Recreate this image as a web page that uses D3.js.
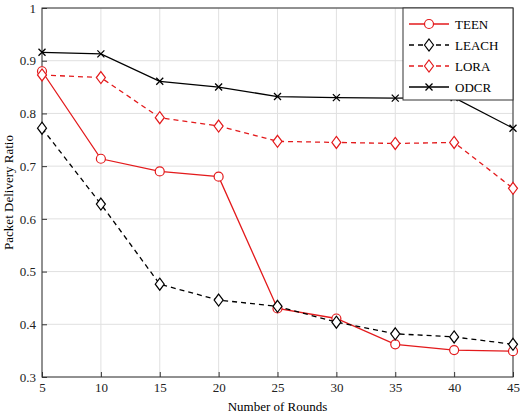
<!DOCTYPE html>
<html>
<head>
<meta charset="UTF-8">
<script src="https://d3js.org/d3.v7.min.js"></script>
<style>
  body { margin: 0; background: #fff; }
  text { font-family: 'Liberation Serif', 'Times New Roman', serif; }
</style>
</head>
<body>
<svg id="chart" width="520" height="416"></svg>
<script>
const rounds = [5, 10, 15, 20, 25, 30, 35, 40, 45];
const teen  = [0.880, 0.714, 0.690, 0.680, 0.430, 0.411, 0.362, 0.351, 0.349];
const leach = [0.772, 0.628, 0.476, 0.446, 0.434, 0.404, 0.382, 0.376, 0.362];
const lora  = [0.873, 0.868, 0.792, 0.776, 0.747, 0.745, 0.743, 0.745, 0.658];
const odcr  = [0.916, 0.913, 0.861, 0.850, 0.832, 0.830, 0.829, 0.830, 0.772];
const yTicks = [0.3, 0.4, 0.5, 0.6, 0.7, 0.8, 0.9, 1];

const series = [
  { name: "TEEN",  values: teen,  color: "#e31a1c", dash: null,  marker: "circle" },
  { name: "LEACH", values: leach, color: "#000",    dash: "5,4", marker: "diamond" },
  { name: "LORA",  values: lora,  color: "#e31a1c", dash: "5,4", marker: "diamond" },
  { name: "ODCR",  values: odcr,  color: "#000",    dash: null,  marker: "cross" }
];

const m = { left: 42, right: 7, top: 8, bottom: 39 };
const W = 520, H = 416;
const svg = d3.select("#chart");
const x = d3.scaleLinear().domain([5, 45]).range([m.left, W - m.right]);
const y = d3.scaleLinear().domain([0.3, 1]).range([H - m.bottom, m.top]);

// grid
svg.append("g").selectAll("line").data(rounds).join("line")
  .attr("x1", d => x(d)).attr("x2", d => x(d))
  .attr("y1", m.top).attr("y2", H - m.bottom)
  .attr("stroke", "#e0e0e0");
svg.append("g").selectAll("line").data(yTicks).join("line")
  .attr("x1", m.left).attr("x2", W - m.right)
  .attr("y1", d => y(d)).attr("y2", d => y(d))
  .attr("stroke", "#e0e0e0");

// axes
const xa = svg.append("g").attr("transform", `translate(0,${H - m.bottom})`)
  .call(d3.axisBottom(x).tickValues(rounds).tickSize(-5).tickPadding(6));
const ya = svg.append("g").attr("transform", `translate(${m.left},0)`)
  .call(d3.axisLeft(y).tickValues(yTicks).tickSize(-5).tickPadding(6).tickFormat(d3.format("~g")));
[xa, ya].forEach(a => {
  a.select(".domain").remove();
  a.selectAll("text").attr("font-size", 13).attr("fill", "#222")
    .style("font-family", "'Liberation Serif', serif");
  a.selectAll("line").attr("stroke", "#333");
});
svg.append("rect").attr("x", m.left).attr("y", m.top)
  .attr("width", W - m.left - m.right).attr("height", H - m.top - m.bottom)
  .attr("fill", "none").attr("stroke", "#333");

svg.append("text").attr("x", (m.left + W - m.right) / 2).attr("y", H - 5)
  .attr("text-anchor", "middle").attr("font-size", 13).text("Number of Rounds");
svg.append("text").attr("transform", `translate(13,${(m.top + H - m.bottom) / 2}) rotate(-90)`)
  .attr("text-anchor", "middle").attr("font-size", 13).text("Packet Delivery Ratio");

function drawMarker(g, type, color) {
  if (type === "circle") g.append("circle").attr("r", 4.5).attr("fill", "#fff").attr("stroke", color).attr("stroke-width", 1.2);
  else if (type === "diamond") g.append("path").attr("d", "M0,-6L4.5,0L0,6L-4.5,0Z").attr("fill", "#fff").attr("stroke", color).attr("stroke-width", 1.2);
  else g.append("path").attr("d", "M-3.5,-3.5L3.5,3.5M-3.5,3.5L3.5,-3.5").attr("stroke", color).attr("stroke-width", 1.3);
}

const line = d3.line().x((d, i) => x(rounds[i])).y(d => y(d));
series.forEach(s => {
  svg.append("path").attr("d", line(s.values)).attr("fill", "none")
    .attr("stroke", s.color).attr("stroke-width", 1.3).attr("stroke-dasharray", s.dash);
  s.values.forEach((v, i) => {
    const g = svg.append("g").attr("transform", `translate(${x(rounds[i])},${y(v)})`);
    drawMarker(g, s.marker, s.color);
  });
});

// legend
const lg = svg.append("g").attr("transform", `translate(403,8)`);
lg.append("rect").attr("width", 110).attr("height", 92).attr("fill", "#fff").attr("stroke", "#333");
series.forEach((s, i) => {
  const yy = 16 + i * 21;
  lg.append("line").attr("x1", 6).attr("x2", 46).attr("y1", yy).attr("y2", yy)
    .attr("stroke", s.color).attr("stroke-width", 1.3).attr("stroke-dasharray", s.dash);
  drawMarker(lg.append("g").attr("transform", `translate(26,${yy})`), s.marker, s.color);
  lg.append("text").attr("x", 52).attr("y", yy + 5).attr("font-size", 13).text(s.name);
});
</script>
</body>
</html>
